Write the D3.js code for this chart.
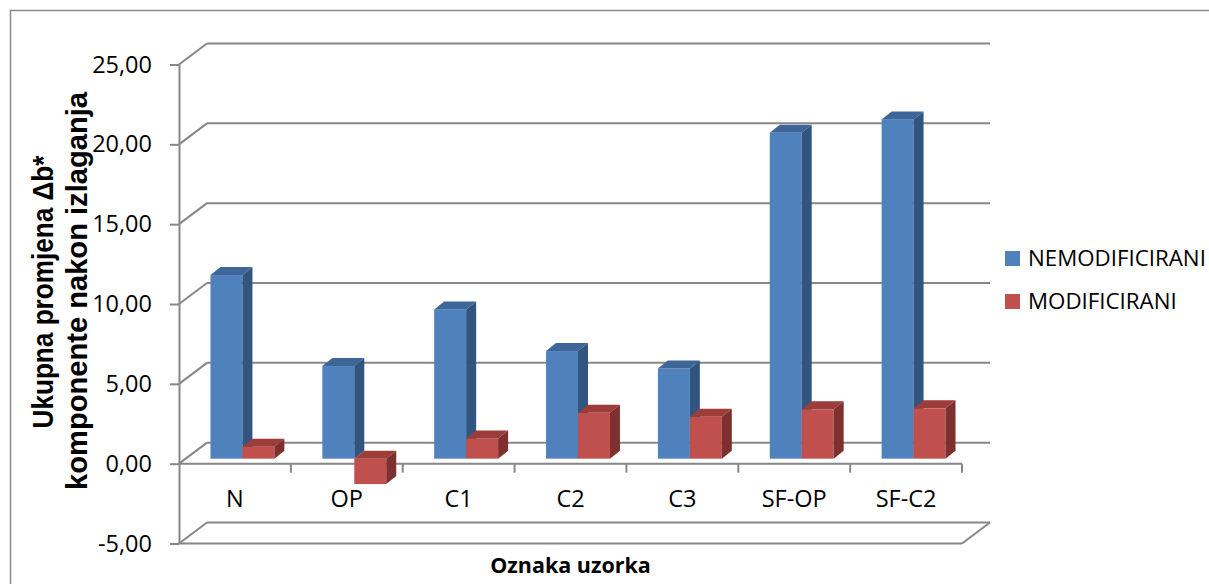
<!DOCTYPE html>
<html><head><meta charset="utf-8">
<script src="https://cdn.jsdelivr.net/npm/d3@7"></script>
<style>body{margin:0;background:#fff} svg{display:block}</style>
</head><body>
<svg id="c" width="1209" height="584"></svg>
<script>
const categories = ["N","OP","C1","C2","C3","SF-OP","SF-C2"];
const seriesNames = ["NEMODIFICIRANI","MODIFICIRANI"];
const nemodificirani = [11.5, 5.8, 9.35, 6.74, 5.65, 20.41, 21.25];
const modificirani = [0.75, -1.59, 1.27, 2.87, 2.62, 3.09, 3.15];
const yTicks = [-5, 0, 5, 10, 15, 20, 25];
const yTitle = ["Ukupna promjena Δb*", "komponente nakon izlaganja"];
const xTitle = "Oznaka uzorka";

const series = [nemodificirani, modificirani];
const colors = [
  {front:"#4f81bd", top:"#3e6699", side:"#32557f"},
  {front:"#c0504d", top:"#9c3d3a", side:"#7d302e"}
];

const svg = d3.select("#c");
const gridCol = "#878787";
const X0 = 179, X1 = 962;
const wall = {dx: 28, dy: -21};
const barOff = {dx: 7.5, dy: -5};
const barDepth = {dx: 10, dy: -8};

const y = d3.scaleLinear().domain([-5, 25]).range([543.5, 64.5]);
const x = d3.scaleBand().domain(categories).range([X0, X1]).paddingInner(0).paddingOuter(0);
const xs = d3.scaleBand().domain(seriesNames).range([0, x.bandwidth()]).paddingInner(0).paddingOuter(0.75);

const loc = d3.formatLocale({decimal: ",", thousands: ".", grouping: [3], currency: ["", ""], minus: "-"});
const fmt = loc.format(".2f");

// outer border
svg.append("rect").attr("x", 10.5).attr("y", 10.5).attr("width", 1400).attr("height", 800)
  .attr("fill", "none").attr("stroke", "#8a8a8a").attr("stroke-width", 1.5);

const grid = svg.append("g").attr("stroke", gridCol).attr("stroke-width", 2).attr("fill", "none");
// back wall lines + left side diagonals
yTicks.forEach(v => {
  const yf = y(v);
  grid.append("line").attr("x1", X0 + wall.dx).attr("x2", X1 + wall.dx)
    .attr("y1", yf + wall.dy).attr("y2", yf + wall.dy);
  grid.append("line").attr("x1", X0).attr("x2", X0 + wall.dx)
    .attr("y1", yf).attr("y2", yf + wall.dy);
});
// floor front edge and right diagonal
grid.append("line").attr("x1", X0).attr("x2", X1).attr("y1", y(-5)).attr("y2", y(-5));
grid.append("line").attr("x1", X1).attr("x2", X1 + wall.dx).attr("y1", y(-5)).attr("y2", y(-5) + wall.dy);
// zero front line (category axis)
grid.append("line").attr("x1", X0).attr("x2", X1).attr("y1", y(0)).attr("y2", y(0));
categories.forEach((c, i) => {
  const xb = x(c) + x.bandwidth();
  grid.append("line").attr("x1", xb).attr("x2", xb).attr("y1", y(0)).attr("y2", y(0) + 9);
});

// value axis
const yAxis = d3.axisLeft(y).tickValues(yTicks).tickFormat(fmt).tickSize(9).tickSizeOuter(0).tickPadding(18);
const ya = svg.append("g").attr("transform", `translate(${X0},0)`).call(yAxis);
ya.selectAll("path, line").attr("stroke", gridCol).attr("stroke-width", 2);
ya.selectAll("text").attr("font-family", "Open Sans").attr("font-size", 23.5).attr("fill", "#000");

// bars
const bars = svg.append("g");
categories.forEach((c, i) => {
  seriesNames.forEach((s, j) => {
    const v = series[j][i];
    const xl = x(c) + xs(s) + barOff.dx;
    const w = xs.bandwidth();
    const yT = Math.min(y(v), y(0)) + barOff.dy;
    const yB = Math.max(y(v), y(0)) + barOff.dy;
    const col = colors[j];
    const g = bars.append("g");
    g.append("rect").attr("x", xl).attr("y", yT).attr("width", w).attr("height", yB - yT).attr("fill", col.front);
    g.append("polygon").attr("points", [[xl, yT], [xl + w, yT], [xl + w + barDepth.dx, yT + barDepth.dy], [xl + barDepth.dx, yT + barDepth.dy]].join(" "))
      .attr("fill", col.top);
    g.append("polygon").attr("points", [[xl + w, yT], [xl + w + barDepth.dx, yT + barDepth.dy], [xl + w + barDepth.dx, yB + barDepth.dy], [xl + w, yB]].join(" "))
      .attr("fill", col.side);
  });
});

// category labels
svg.append("g").selectAll("text").data(categories).join("text")
  .attr("x", d => x(d) + x.bandwidth() / 2).attr("y", 507)
  .attr("text-anchor", "middle").attr("font-family", "Open Sans").attr("font-size", 23.5).attr("fill", "#000")
  .text(d => d);

// axis titles
svg.append("text").attr("x", 570.5).attr("y", 573).attr("text-anchor", "middle")
  .attr("font-family", "Open Sans").attr("font-weight", "bold").attr("font-size", 21.5).attr("fill", "#000")
  .text(xTitle);
const yt = svg.append("g").attr("font-family", "Liberation Sans").attr("font-weight", "bold").attr("font-size", 29).attr("fill", "#000");
yt.append("text").attr("transform", "translate(53,292) rotate(-90)").attr("text-anchor", "middle")
  .attr("textLength", 273).attr("lengthAdjust", "spacingAndGlyphs").text(yTitle[0]);
yt.append("text").attr("transform", "translate(87,291) rotate(-90)").attr("text-anchor", "middle")
  .attr("textLength", 398).attr("lengthAdjust", "spacingAndGlyphs").text(yTitle[1]);

// legend
const lg = svg.append("g");
seriesNames.forEach((s, j) => {
  lg.append("rect").attr("x", 1005).attr("y", 251 + j * 43).attr("width", 15).attr("height", 15).attr("fill", colors[j].front);
  lg.append("text").attr("x", 1028).attr("y", 266 + j * 43).attr("font-family", "Open Sans").attr("font-size", 22.3).attr("fill", "#000").text(s);
});
</script>
</body></html>
